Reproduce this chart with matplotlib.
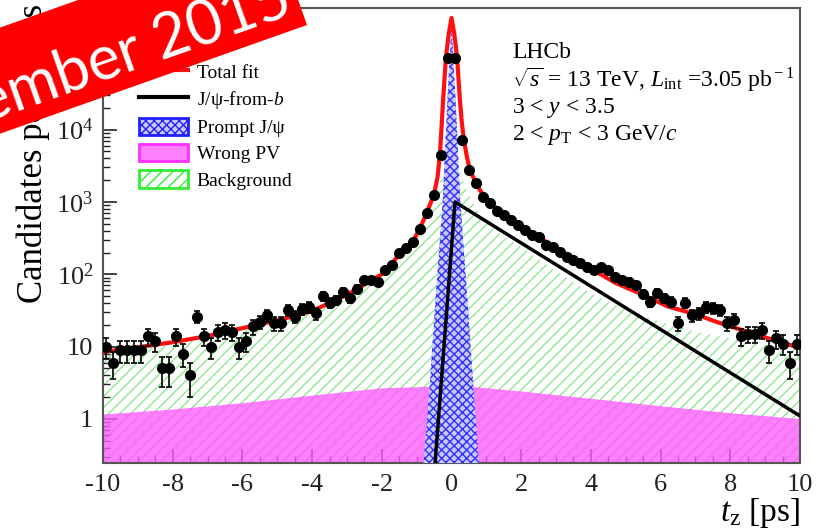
import numpy as np
import matplotlib
matplotlib.use('Agg')
from matplotlib import pyplot as plt
from matplotlib.lines import Line2D
from matplotlib.patches import Patch, Polygon
from matplotlib.ticker import FuncFormatter, FixedLocator, MultipleLocator, AutoMinorLocator, NullFormatter

plt.rcParams['font.family'] = ['Liberation Serif', 'DejaVu Serif']
plt.rcParams['mathtext.fontset'] = 'custom'
plt.rcParams['mathtext.rm'] = 'Liberation Serif'
plt.rcParams['mathtext.it'] = 'Liberation Serif:italic'
plt.rcParams['axes.unicode_minus'] = False
plt.rcParams['hatch.linewidth'] = 1.0

# data points, 0.2 ps bins from -10 to 10
bin_edges = np.linspace(-10, 10, 101)
counts = [10, 6, 9, 9, 9, 9, 14, 12, 5, 5,
          14, 8, 4, 26, 14, 10, 16, 17, 16, 10,
          12, 19, 22, 27, 21, 21, 32, 26, 33, 35,
          29, 50, 40, 44, 57, 47, 63, 84, 84, 78,
          115, 135, 200, 233, 280, 425, 710, 1250, 4500, 98000,
          98000, 7230, 2780, 1840, 1180, 970, 750, 660, 565, 482,
          411, 351, 329, 255, 239, 204, 174, 158, 144, 127,
          115, 127, 115, 92, 84, 79, 71, 54, 42, 55,
          47, 42, 21, 40, 27, 29, 35, 34, 32, 21,
          23, 14, 15, 15, 17, 9, 13, 11, 6, 11]

# total fit
t_fit = [-10, -9, -8, -7, -6, -5, -4, -3, -2, -1.5, -1.1, -0.9, -0.7, -0.5, -0.4,
         -0.33, -0.28, -0.24, -0.16, -0.08, 0.0, 0.08, 0.16, 0.24, 0.3, 0.36, 0.45,
         0.53, 0.7, 1.0, 1.5, 2.0, 3.0, 4.0, 4.7, 5.5, 6.2, 7.0, 7.6, 8.5, 9.2, 10]
fit_vals = [8.4, 9.8, 11.5, 14, 18, 23, 31, 52, 100, 185, 290, 440, 720, 1300, 2200,
            4700, 12000, 26000, 100000, 210000, 350000, 210000, 100000, 26000, 12000, 7000, 4000,
            2800, 1800, 1050, 700, 470, 230, 120, 76, 52, 36, 28, 22, 16, 12.5, 9.6]

# J/psi from b
t_fromb = [-0.5, 0.1, 10.0]
fromb_vals = [0.16, 1000, 1.1]

# prompt J/psi
t_prompt = [-0.82, -0.62, -0.46, -0.25, -0.12, 0.0, 0.12, 0.25, 0.46, 0.62, 0.8]
prompt_vals = [0.2, 3.2, 44, 1080, 25000, 300000, 25000, 1080, 44, 3.2, 0.2]

# wrong PV
t_wpv = [-10, -8, -6, -4, -2, -0.5, 0, 2, 4, 6, 8, 10]
wpv_vals = [1.15, 1.35, 1.65, 2.1, 2.65, 2.8, 2.95, 2.4, 1.9, 1.5, 1.2, 1.0]

# background
t_bkg = [-10, -8, -6, -4, -3, -2, -1.5, -1, -0.5, -0.25, 0, 0.2, 0.4, 0.7, 1.0,
         1.5, 2.0, 3.0, 4.0, 5.0, 6.0, 7.0, 8.0, 9.0, 10]
bkg_vals = [8.2, 10.5, 16.5, 29, 45, 90, 160, 290, 1100, 2500, 3500, 3000, 1600, 800, 520,
            330, 240, 110, 55, 32, 22, 16, 13, 10.5, 9]

y_ticks = [1, 10, 100, 1000, 10000, 100000]
YMIN, YMAX = 0.246, 4.8e5

fig = plt.figure(figsize=(8.23, 5.32), dpi=100)
ax = fig.add_axes([103/823, 1-463/532, 697/823, 455/532])

ax.fill_between(t_bkg, YMIN/2, bkg_vals, facecolor='white', edgecolor='#8fe88f',
                hatch='///', linewidth=0, zorder=1)
ax.fill_between(t_wpv, YMIN/2, wpv_vals, facecolor='#ff5cff', alpha=0.8,
                linewidth=0, zorder=2)
ax.fill_between(t_prompt, YMIN/2, prompt_vals, facecolor='#c8c8ff', edgecolor='#3030ff',
                hatch='xxxx', linewidth=0, zorder=3)
ax.plot(t_fromb, fromb_vals, color='black', lw=2.5, zorder=4)
ax.plot(t_fit, fit_vals, color='#ff1010', lw=3, zorder=5)

centers = 0.5*(bin_edges[:-1] + bin_edges[1:])
counts = np.array(counts, dtype=float)
ax.errorbar(centers, counts, yerr=np.sqrt(counts), fmt='o', color='black', ms=7,
            elinewidth=1.2, capsize=2.5, capthick=1.2, zorder=6)

ax.set_yscale('log')
ax.set_xlim(-10, 10)
ax.set_ylim(YMIN, YMAX)

def ylab(v, pos):
    e = int(round(np.log10(v)))
    if e == 0:
        return '1'
    if e == 1:
        return '10'
    return r'$10^{%d}$' % e

minor_ticks = [m*10.0**e for e in range(-1, 6) for m in range(2, 10)
               if YMIN <= m*10.0**e <= YMAX]
ax.yaxis.set_major_locator(FixedLocator(y_ticks))
ax.yaxis.set_major_formatter(FuncFormatter(ylab))
ax.yaxis.set_minor_locator(FixedLocator(minor_ticks))
ax.yaxis.set_minor_formatter(NullFormatter())
ax.xaxis.set_major_locator(MultipleLocator(2))
ax.xaxis.set_minor_locator(AutoMinorLocator(4))

ax.tick_params(which='both', direction='in', labelsize=19, colors='#222222')
ax.tick_params(which='major', length=10, width=1.2)
ax.tick_params(which='minor', length=5, width=1.0)
ax.tick_params(axis='x', pad=8)
ax.tick_params(axis='y', pad=7)
for s in ax.spines.values():
    s.set_color('#555555')
    s.set_linewidth(1.5)

ax.set_xlabel(r'$t_{\rm z}$ [ps]', fontsize=24, loc='right')
ax.xaxis.set_label_coords(1.0, -0.072)
fig.text(33/823, 1-4/532, 'Candidates per 0.2 ps', rotation=90, ha='center', va='top',
         fontsize=25)

# info text
ax.text(0.587, 0.890, 'LHCb', transform=ax.transAxes, fontsize=17, va='baseline')
ax.text(0.587, 0.826, r'$\sqrt{s}$ = 13 TeV, $L_{\rm int}$ =3.05 pb$^{\rm -1}$',
        transform=ax.transAxes, fontsize=17, va='baseline')
ax.text(0.587, 0.769, r'3 < $y$ < 3.5', transform=ax.transAxes, fontsize=17, va='baseline')
ax.text(0.587, 0.710, r'2 < $p_{\rm T}$ < 3 GeV/$c$', transform=ax.transAxes,
        fontsize=17, va='baseline')

handles = [Line2D([], [], color='#ff1010', lw=3),
           Line2D([], [], color='black', lw=3),
           Patch(facecolor='#c8c8ff', edgecolor='#2020ff', hatch='xxxx', lw=2),
           Patch(facecolor='#ff80ff', edgecolor='#ff30ff', lw=2),
           Patch(facecolor='white', edgecolor='#33ee33', hatch='///', lw=2)]
labels = ['Total fit', r'J/ψ-from-$b$', 'Prompt J/ψ', 'Wrong PV', 'Background']
ax.legend(handles, labels, loc='upper left', bbox_to_anchor=(0.052, 0.881),
          frameon=False, fontsize=14, handlelength=2.5, handleheight=1.0,
          handletextpad=0.45, labelspacing=0.36, borderpad=0, borderaxespad=0)

# banner
ang = np.deg2rad(19.5)
u = np.array([np.cos(ang), -np.sin(ang)])
n = np.array([-np.sin(ang), -np.cos(ang)])
br = np.array([307.0, 25.0])
bl = br - 460*u
corners = [bl, br, br + 100*n, bl + 100*n]
poly = Polygon([(p[0]/823, 1 - p[1]/532) for p in corners], closed=True,
               transform=fig.transFigure, facecolor='#ff0000', edgecolor='none', zorder=20)
fig.add_artist(poly)
fig.text(134/823, 1-51/532, 'ember 2015', color='white', fontsize=44, family='Lato',
         rotation=19.5, rotation_mode='anchor', ha='center', va='center', zorder=21)

fig.savefig('out.png', dpi=100)
